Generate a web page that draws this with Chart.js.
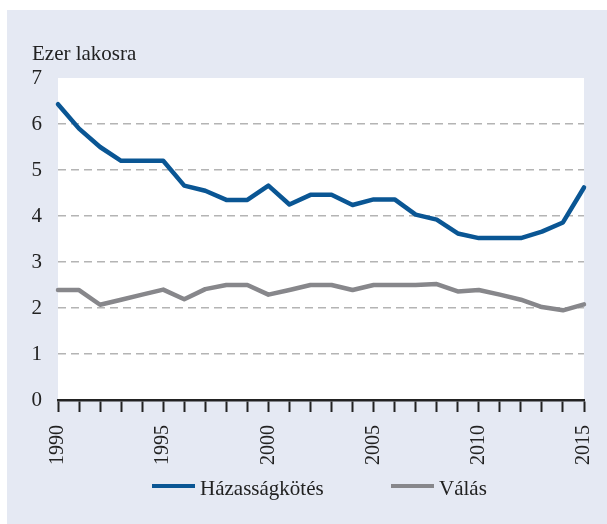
<!DOCTYPE html>
<html>
<head>
<meta charset="utf-8">
<script src="https://cdn.jsdelivr.net/npm/chart.js@4.4.0/dist/chart.umd.min.js"></script>
<style>
  html, body { margin: 0; padding: 0; background: #ffffff; }
  #wrap { position: relative; width: 607px; height: 524px; }
  #c { position: absolute; left: 0; top: 0; }
  .lg-sw { position: absolute; height: 4px; width: 43px; }
  .lg-tx { position: absolute; font-family: "Liberation Serif", serif; font-size: 21px; line-height: 25px; color: #222222; white-space: nowrap; }
</style>
</head>
<body>
<div id="wrap">
  <canvas id="c" width="607" height="524"></canvas>
  <div id="legend"></div>
</div>
<script>
// ---- data ----
const years = [1990,1991,1992,1993,1994,1995,1996,1997,1998,1999,2000,2001,2002,2003,2004,2005,2006,2007,2008,2009,2010,2011,2012,2013,2014,2015];
const marriages = [6.43,5.90,5.50,5.20,5.20,5.20,4.66,4.55,4.35,4.35,4.66,4.25,4.46,4.46,4.24,4.36,4.36,4.03,3.92,3.62,3.52,3.52,3.52,3.66,3.86,4.62];
const divorces  = [2.39,2.39,2.07,2.18,2.29,2.40,2.19,2.41,2.50,2.50,2.29,2.39,2.50,2.50,2.39,2.50,2.50,2.50,2.52,2.36,2.39,2.29,2.18,2.02,1.95,2.08];
const seriesNames = ["Házasságkötés", "Válás"];
const seriesColors = ["#0a5694", "#87878b"];
const yTicks = [0,1,2,3,4,5,6,7];
const titleText = "Ezer lakosra";

const FONT = "Liberation Serif";

const bgPlugin = {
  id: 'panelBg',
  beforeDraw(chart) {
    const ctx = chart.ctx;
    const ca = chart.chartArea;
    ctx.save();
    ctx.fillStyle = '#ffffff';
    ctx.fillRect(0, 0, chart.width, chart.height);
    ctx.fillStyle = '#e5e9f3';
    ctx.fillRect(7, 10, chart.width - 7, chart.height - 10);
    ctx.fillStyle = '#ffffff';
    ctx.fillRect(ca.left, ca.top, ca.right - ca.left, ca.bottom - ca.top);
    ctx.fillStyle = '#222222';
    ctx.font = '21px "' + FONT + '"';
    ctx.textBaseline = 'alphabetic';
    ctx.textAlign = 'left';
    ctx.fillText(titleText, 32, 60);
    ctx.restore();
  }
};

new Chart(document.getElementById('c'), {
  type: 'line',
  data: {
    labels: years,
    datasets: [
      { label: seriesNames[0], data: marriages, borderColor: seriesColors[0], backgroundColor: seriesColors[0],
        borderWidth: 4.5, pointRadius: 0, tension: 0, borderCapStyle: 'round', borderJoinStyle: 'round', clip: 6 },
      { label: seriesNames[1], data: divorces, borderColor: seriesColors[1], backgroundColor: seriesColors[1],
        borderWidth: 4.5, pointRadius: 0, tension: 0, borderCapStyle: 'round', borderJoinStyle: 'round', clip: 6 }
    ]
  },
  options: {
    responsive: false,
    animation: false,
    devicePixelRatio: 1,
    layout: { padding: { left: 32, right: 23, top: 78, bottom: 42 } },
    plugins: { legend: { display: false }, title: { display: false }, tooltip: { enabled: false } },
    scales: {
      x: {
        type: 'category',
        offset: false,
        afterFit(s) { s.height = 82; s.paddingLeft = 0; s.paddingRight = 0; },
        grid: { drawOnChartArea: false, drawTicks: true, tickLength: 12, tickWidth: 2, tickColor: '#222222', color: '#222222' },
        border: { display: true, color: '#222222', width: 2.5 },
        ticks: {
          autoSkip: false, minRotation: 90, maxRotation: 90, padding: 13,
          color: '#222222', font: { family: FONT, size: 20 },
          callback(v, i) { return years[i] % 5 === 0 ? String(years[i]) : ''; }
        }
      },
      y: {
        min: yTicks[0], max: yTicks[yTicks.length - 1],
        afterFit(s) { s.width = 26; },
        afterBuildTicks(s) { s.ticks = yTicks.map(v => ({ value: v })); },
        grid: {
          drawTicks: false, lineWidth: 1.5,
          color(ctx) { const v = ctx.tick && ctx.tick.value; return (v === 0 || v === 7) ? 'rgba(0,0,0,0)' : '#b4b4b4'; }
        },
        border: { display: false, dash: [8, 5] },
        ticks: { padding: 16, color: '#222222', font: { family: FONT, size: 21 } }
      }
    }
  },
  plugins: [bgPlugin]
});

// HTML legend built from the series arrays
const legendLefts = [152, 391];
const lg = document.getElementById('legend');
seriesNames.forEach((name, i) => {
  const sw = document.createElement('div');
  sw.className = 'lg-sw';
  sw.style.left = legendLefts[i] + 'px';
  sw.style.top = '484px';
  sw.style.background = seriesColors[i];
  lg.appendChild(sw);
  const tx = document.createElement('div');
  tx.className = 'lg-tx';
  tx.style.left = (legendLefts[i] + 48) + 'px';
  tx.style.top = '476px';
  tx.textContent = name;
  lg.appendChild(tx);
});
</script>
</body>
</html>
